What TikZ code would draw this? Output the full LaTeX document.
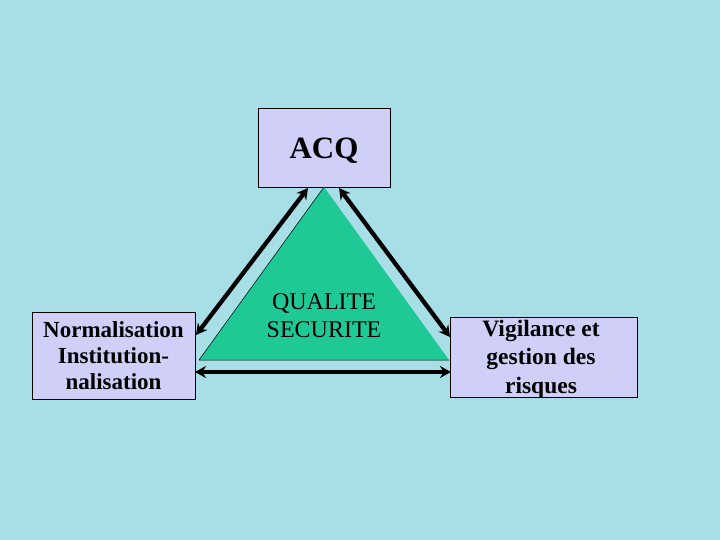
\documentclass[tikz,border=0pt]{standalone}
\usepackage{fontspec}
\setmainfont{Liberation Serif}
\usetikzlibrary{arrows.meta}
\definecolor{bgc}{HTML}{A8DEE6}
\definecolor{boxc}{HTML}{CFCFF7}
\definecolor{tric}{HTML}{1FC996}
\tikzset{
  box/.style={draw=black, line width=0.8pt, fill=boxc, minimum width=#1, inner sep=0pt},
  dbl/.style={line width=4.3pt, {Stealth[length=11pt,width=12pt]}-{Stealth[length=11pt,width=12pt]}},
}
\begin{document}
\begin{tikzpicture}[x=1pt,y=-1pt]
\fill[bgc] (0,0) rectangle (720,540);
\useasboundingbox (0,0) rectangle (720,540);
% boxes
\node[box=132pt, minimum height=79pt, anchor=north west] (acq) at (258,108) {};
\node[align=center, inner sep=0pt, font=\fontsize{31}{34}\selectfont\bfseries] (acqt) at (324,151) {ACQ};
\node[box=163pt, minimum height=87pt, anchor=north west] (norm) at (32,312) {};
\node[align=center, inner sep=0pt, font=\fontsize{23}{26}\selectfont\bfseries] (normt) at (113.5,355.5) {Normalisation\\Institution-\\nalisation};
\node[box=187pt, minimum height=80pt, anchor=north west] (vig) at (450,317) {};
\node[align=center, inner sep=0pt, font=\fontsize{23.5}{28.5}\selectfont\bfseries] (vigt) at (541,359) {Vigilance et\\gestion des\\risques};
% triangle
\coordinate (tA) at (324,187);
\coordinate (tL) at (199,360);
\coordinate (tR) at (449,360);
\fill[tric] (tA) -- (tL) -- (tR) -- cycle;
\draw[line width=0.5pt] (tA) -- (tL) (tL) -- (tR);
\node[align=center, inner sep=0pt, font=\fontsize{24}{28}\selectfont] (tri) at (324,316) {QUALITE\\SECURITE};
% arrows
\coordinate (a1) at (308,188);
\coordinate (b1) at (196,335);
\coordinate (a2) at (339,188);
\coordinate (b2) at (450,337);
\coordinate (a3) at (195,372);
\coordinate (b3) at (451,372);
\draw[dbl] (a1) -- (b1);
\draw[dbl] (a2) -- (b2);
\draw[dbl] (a3) -- (b3);
\end{tikzpicture}
\end{document}
